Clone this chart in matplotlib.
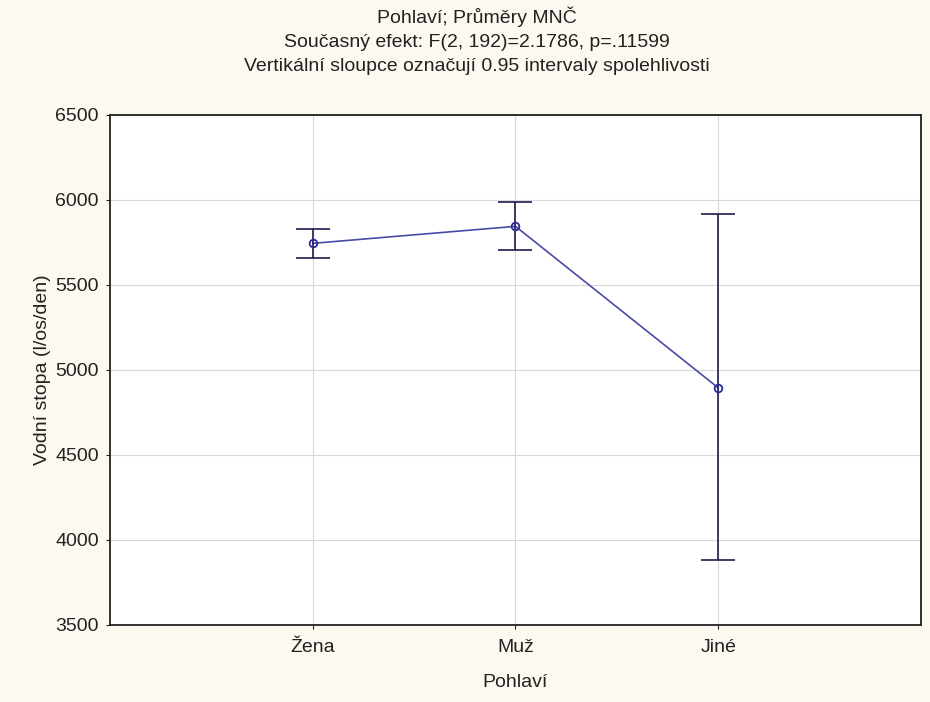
import matplotlib
matplotlib.use("Agg")
import matplotlib.pyplot as plt

# category means and 0.95 CI limits
categories = ["Žena", "Muž", "Jiné"]
means = [5745, 5845, 4895]
ci_low = [5660, 5708, 3880]
ci_high = [5830, 5990, 5920]
yticks = [3500, 4000, 4500, 5000, 5500, 6000, 6500]

plt.rcParams['font.family'] = ['Liberation Sans', 'DejaVu Sans']

bg = "#fcf9f0"
fig = plt.figure(figsize=(9.3, 7.02), dpi=100, facecolor=bg)
ax = fig.add_axes([0.1183, 0.1097, 0.8720, 0.7265])
ax.set_facecolor("white")

x = list(range(1, len(categories) + 1))
yerr = [[m - lo for m, lo in zip(means, ci_low)],
        [hi - m for m, hi in zip(means, ci_high)]]

ax.plot(x, means, color="#4a4aa8", lw=1.2, zorder=3)
ax.errorbar(x, means, yerr=yerr, fmt="none", ecolor="#1c1c50",
            elinewidth=1.2, capsize=12, capthick=1.2, zorder=4)
ax.plot(x, means, ls="none", marker="o", ms=5.5, mfc="none",
        mec="#2a2a9a", mew=1.3, zorder=5)

ax.set_xlim(0, 4)
ax.set_ylim(3500, 6500)
ax.set_xticks(x)
ax.set_xticklabels(categories)
ax.set_yticks(yticks)
ax.grid(True, color="#d8d8d8", lw=0.8)
ax.set_axisbelow(True)
for s in ax.spines.values():
    s.set_color("#222222")
    s.set_linewidth(1.3)
ax.tick_params(labelsize=14, colors="#222222", length=3, width=0.8)
ax.tick_params(axis="x", pad=7)
ax.tick_params(axis="y", pad=5)

ax.set_xlabel("Pohlaví", fontsize=14, color="#222222", labelpad=13)
ax.set_ylabel("Vodní stopa (l/os/den)", fontsize=14, color="#222222", labelpad=3)

# title block is centred a bit left of the axes centre in the original
fig.text(0.513, 0.9416,
         "Pohlaví; Průměry MNČ\nSoučasný efekt: F(2, 192)=2.1786, p=.11599\n"
         "Vertikální sloupce označují 0.95 intervaly spolehlivosti",
         ha="center", va="center", multialignment="center",
         fontsize=14, color="#222222", linespacing=1.52)

fig.savefig("out.png", dpi=100, facecolor=bg)
